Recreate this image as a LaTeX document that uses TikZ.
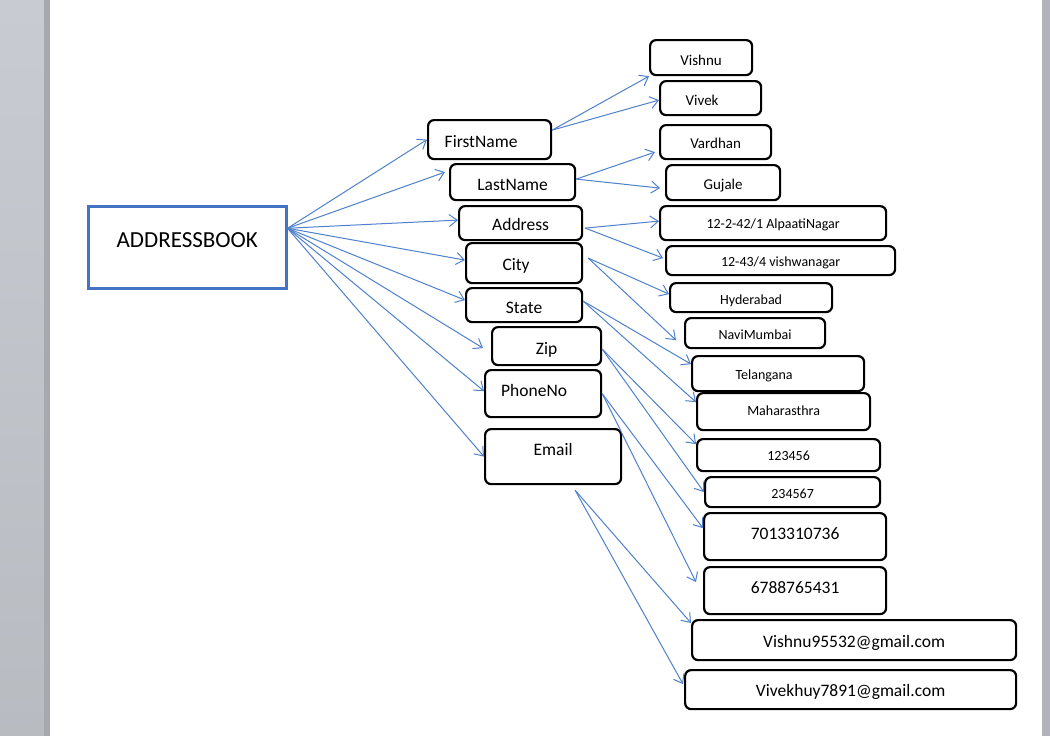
\documentclass[tikz,border=0pt]{standalone}
\usepackage{fontspec}
\setmainfont{Carlito}
\usetikzlibrary{arrows.meta}
\definecolor{linkblue}{RGB}{79,129,205}
\definecolor{bookblue}{RGB}{68,114,196}
\definecolor{deskgray}{RGB}{200,204,210}
\definecolor{deskdark}{RGB}{166,169,173}
\definecolor{edgegray}{RGB}{176,179,183}

\begin{document}
\begin{tikzpicture}[x=1pt,y=-1pt,
  bookbox/.style={draw=bookblue,line width=2.5pt,inner sep=0pt,anchor=north west,font=\fontsize{23}{26}\selectfont},
  field/.style={draw,line width=2.2pt,rounded corners=6pt,inner sep=0pt,anchor=north west,font=\fontsize{17.5}{20}\selectfont},
  person/.style={field,font=\fontsize{15}{18}\selectfont},
  value/.style={field,font=\fontsize{14}{16}\selectfont},
  link/.style={linkblue,line width=1pt,-{Straight Barb[length=8pt,width=12pt]}}]
\useasboundingbox (0,0) rectangle (1050,736);
\shade[top color=deskgray,bottom color=deskgray!92!black] (0,0) rectangle (44,736);
\fill[deskdark] (44,0) rectangle (50,736);
\fill[white] (50,0) rectangle (1042,736);
\fill[edgegray] (1042,0) rectangle (1050,736);

\node[bookbox,minimum width=198pt,text height=41pt,text depth=41pt] (book) at (87,205) {ADDRESSBOOK};
\coordinate (hub) at ([yshift=19pt]book.east);

\node[field,minimum width=123pt,text height=27pt,text depth=12pt] (first) at (427,119) {FirstName\kern17pt};
\node[field,minimum width=125pt,text height=26pt,text depth=10pt] (last) at (449,163) {LastName};
\node[field,minimum width=123pt,text height=24pt,text depth=10pt] (addr) at (458,205) {Address};
\node[field,minimum width=116pt,text height=27pt,text depth=13pt] (city) at (465,242) {City\kern16pt};
\node[field,minimum width=116pt,text height=25pt,text depth=9pt] (state) at (465,287) {State};
\node[field,minimum width=109pt,text height=27pt,text depth=11pt] (zip) at (491,326) {Zip};
\node[field,minimum width=116pt,text height=26pt,text depth=21pt] (phone) at (484,369) {PhoneNo\kern18pt};
\node[field,minimum width=136pt,text height=26pt,text depth=29pt] (email) at (484,428) {Email};

\node[person,minimum width=102pt,text height=25pt,text depth=10pt] (vishnu) at (649,39) {Vishnu};
\node[person,minimum width=101pt,text height=24pt,text depth=10pt] (vivek) at (659,80) {Vivek\kern17pt};
\node[person,minimum width=111pt,text height=23pt,text depth=11pt] (vardhan) at (659,124) {Vardhan};
\node[person,minimum width=114pt,text height=24pt,text depth=11pt] (gujale) at (665,164) {Gujale};
\node[value,minimum width=226pt,text height=22pt,text depth=12pt] (addr1) at (659,205) {12-2-42/1 AlpaatiNagar};
\node[value,minimum width=229pt,text height=20pt,text depth=9pt] (addr2) at (665,245) {12-43/4 vishwanagar};
\node[value,minimum width=162pt,text height=21pt,text depth=8pt] (hyd) at (669,282) {Hyderabad};
\node[value,minimum width=140pt,text height=21pt,text depth=9pt] (mumbai) at (684,317) {NaviMumbai};
\node[value,minimum width=172pt,text height=23pt,text depth=12pt] (tel) at (691,355) {Telangana\kern28pt};
\node[value,minimum width=173pt,text height=22pt,text depth=15pt] (maha) at (696,392) {Maharasthra};
\node[value,minimum width=183pt,text height=21pt,text depth=11pt] (pin1) at (696,438) {123456};
\node[value,minimum width=175pt,text height=21pt,text depth=9pt] (pin2) at (704,476) {234567};
\node[field,minimum width=182pt,text height=26pt,text depth=21pt] (ph1) at (703,512) {7013310736};
\node[field,minimum width=182pt,text height=26pt,text depth=21pt] (ph2) at (703,566) {6788765431};
\node[field,minimum width=324pt,text height=27pt,text depth=13pt] (mail1) at (691,619) {Vishnu95532@gmail.com};
\node[field,minimum width=331pt,text height=26pt,text depth=13pt] (mail2) at (684,669) {Vivekhuy7891@gmail.com};

\draw[link] (hub) -- (first.west);
\draw[link] (hub) -- ([xshift=-4pt,yshift=10pt]last.west);
\draw[link] (hub) -- ([yshift=3pt]addr.west);
\draw[link] (hub) -- ([yshift=3pt]city.west);
\draw[link] (hub) -- ([yshift=5pt]state.west);
\draw[link] (hub) -- ([xshift=-8pt,yshift=-2pt]zip.west);
\draw[link] (hub) -- ([yshift=2.5pt]phone.west);
\draw[link] (hub) -- (email.west);

\draw[link] ([yshift=9.5pt]first.east) -- (vishnu.south west);
\draw[link] ([yshift=9.5pt]first.east) -- ([yshift=-2pt]vivek.west);
\draw[link] ([yshift=3pt]last.east) -- ([xshift=-4pt,yshift=-10pt]vardhan.west);
\draw[link] ([yshift=3pt]last.east) -- ([xshift=-5pt,yshift=-5.5pt]gujale.west);
\draw[link] ([xshift=2pt,yshift=-5pt]addr.east) -- ([yshift=2pt]addr1.west);
\draw[link] ([xshift=2pt,yshift=-5pt]addr.east) -- ([xshift=-2pt,yshift=2.5pt]addr2.west);
\draw[link] ([xshift=5pt,yshift=5pt]city.east) -- ([yshift=3.5pt]hyd.west);
\draw[link] ([xshift=5pt,yshift=5pt]city.east) -- ([xshift=-8pt,yshift=-7pt]mumbai.west);
\draw[link] ([yshift=4pt]state.east) -- ([yshift=9.5pt]tel.west);
\draw[link] ([yshift=4pt]state.east) -- ([yshift=9.5pt]maha.west);
\draw[link] ([yshift=-3pt]zip.east) -- ([yshift=11pt]pin1.west);
\draw[link] ([yshift=-3pt]zip.east) -- (pin2.west);
\draw[link] (phone.east) -- ([yshift=8.5pt]ph1.west);
\draw[link] (phone.east) -- ([xshift=-7pt,yshift=8.5pt]ph2.west);
\draw[link] ([xshift=22pt,yshift=-5pt]email.south) -- ([yshift=-4pt]mail1.north west);
\draw[link] ([xshift=22pt,yshift=-5pt]email.south) -- ([xshift=-1pt,yshift=5.5pt]mail2.west);
\end{tikzpicture}
\end{document}
